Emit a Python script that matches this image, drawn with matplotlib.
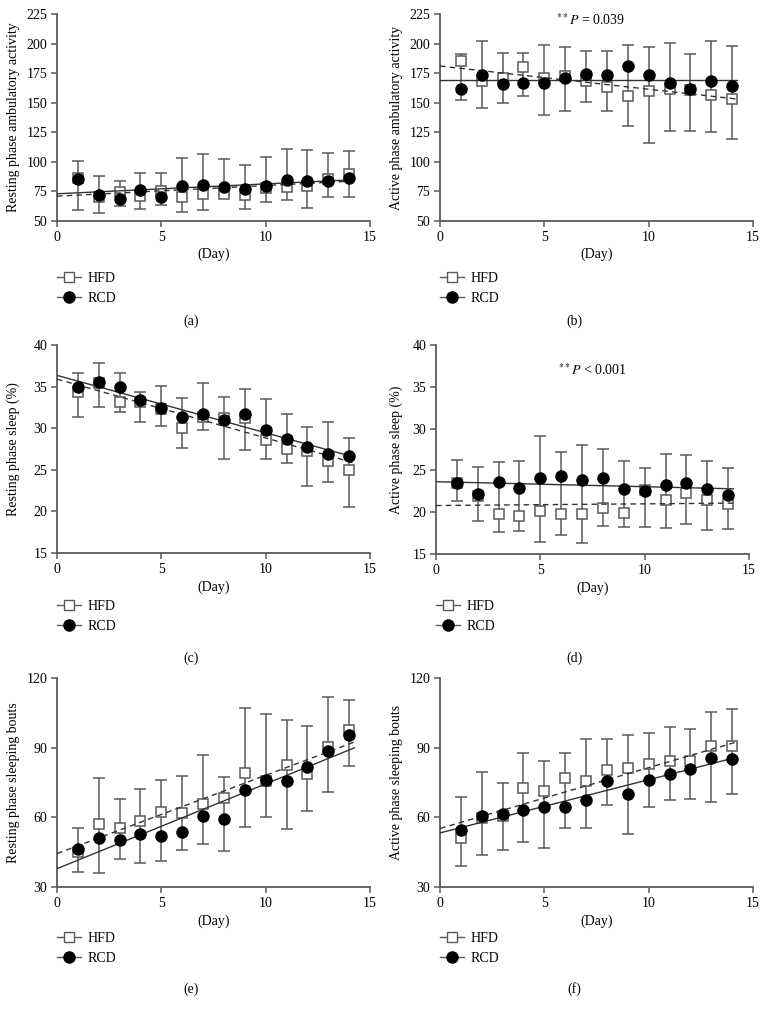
import matplotlib
matplotlib.use('Agg')
import matplotlib.pyplot as plt
from matplotlib.lines import Line2D
import numpy as np

plt.rcParams['font.family'] = ['Liberation Serif', 'DejaVu Serif']
plt.rcParams['mathtext.fontset'] = 'stix'

days = np.arange(1, 15)
series_labels = ['HFD', 'RCD']
panel_labels = ['(a)', '(b)', '(c)', '(d)', '(e)', '(f)']
y_labels = ['Resting phase ambulatory activity', 'Active phase ambulatory activity',
            'Resting phase sleep (%)', 'Active phase sleep (%)',
            'Resting phase sleeping bouts', 'Active phase sleeping bouts']
p_texts = {1: r'$^{**}P$ = 0.039', 3: r'$^{**}P$ < 0.001'}

# (a) resting phase ambulatory activity
a_hfd = [86, 70, 74.5, 71, 75, 70.7, 73, 72.5, 71.6, 77.7, 78.6, 80, 85.6, 89.5]
a_rcd = [85.3, 71.6, 68.8, 75.8, 70.7, 80, 80.5, 78.6, 77.2, 79.7, 85, 84.2, 84.2, 86.4]
a_hi = [101, 87.8, 84.2, 90.6, 90.3, 103.2, 106.9, 102, 97.3, 103.8, 111, 110, 107.7, 109.4]
a_lo = [59, 57, 63, 60, 63.7, 58, 59.5, 72, 60, 65.7, 68, 61, 70.7, 70]
a_trend_hfd = (71.0, 0.90)
a_trend_rcd = (73.0, 0.836)

# (b) active phase ambulatory activity
b_hfd = [185.4, 168, 170.9, 180, 170.9, 172.3, 168.6, 163.3, 156, 159.7, 161.6, 160.5, 156.9, 153.5]
b_rcd = [161.9, 173.7, 166.1, 166.4, 166.4, 170.9, 174.2, 173.1, 180.7, 173.7, 166.7, 161.9, 168.6, 163.9]
b_hi = [191, 202.5, 192.4, 191.9, 198.6, 197.2, 193.8, 193.3, 199.2, 197.2, 200.8, 191.3, 202.2, 197.8]
b_lo = [152.4, 145.4, 149.9, 156, 139.2, 143.4, 150.4, 142.9, 130.3, 116.2, 125.8, 126.3, 125.2, 119]
b_trend_hfd = (181.0, -1.96)
b_trend_rcd = (169.0, 0.0)

# (c) resting phase sleep
c_hfd = [34.4, 35.4, 33.2, 33.1, 32.3, 30.0, 31.4, 31.2, 31.2, 28.6, 27.5, 27.3, 26.0, 25.0]
c_rcd = [34.9, 35.6, 35.0, 33.4, 32.4, 31.4, 31.7, 31.0, 31.7, 29.8, 28.7, 27.8, 26.9, 26.6]
c_hi = [36.6, 37.8, 36.6, 34.4, 35.1, 33.6, 35.4, 33.8, 34.7, 33.5, 31.7, 30.1, 30.8, 28.8]
c_lo = [31.3, 32.5, 32.0, 30.8, 30.3, 27.6, 29.8, 26.3, 27.4, 26.3, 25.8, 23.0, 23.5, 20.5]
c_trend_hfd = (35.9, -0.707)
c_trend_rcd = (36.35, -0.69)

# (d) active phase sleep
d_hfd = [23.5, 21.9, 19.8, 19.5, 20.1, 19.8, 19.8, 20.5, 19.9, 22.6, 21.4, 22.3, 21.4, 21.0]
d_rcd = [23.5, 22.2, 23.6, 22.9, 24.1, 24.3, 23.9, 24.1, 22.8, 22.5, 23.3, 23.5, 22.8, 22.1]
d_hi = [26.3, 25.4, 26.0, 26.1, 29.1, 27.2, 28.0, 27.5, 26.1, 25.3, 27.0, 26.8, 26.1, 25.3]
d_lo = [21.3, 19.0, 17.6, 17.7, 16.4, 17.3, 16.3, 18.4, 18.2, 18.2, 18.1, 18.6, 17.9, 18.0]
d_trend_hfd = (20.8, 0.02)
d_trend_rcd = (23.65, -0.06)

# (e) resting phase sleeping bouts
e_hfd = [45.2, 57.1, 55.4, 58.6, 62.1, 62.0, 65.7, 68.3, 79.3, 75.6, 82.7, 78.6, 90.3, 97.7]
e_rcd = [46.5, 51.1, 50.3, 52.9, 52.0, 53.7, 60.6, 59.4, 71.7, 76.0, 75.6, 81.7, 88.4, 95.6]
e_hi = [55.4, 77.0, 68.0, 72.3, 76.0, 78.0, 86.7, 77.3, 107.1, 104.6, 102.1, 99.4, 112.0, 110.4]
e_lo = [36.5, 36.0, 42.0, 40.4, 41.0, 45.8, 48.7, 45.4, 55.9, 60.2, 54.8, 62.7, 71.0, 82.3]
e_trend_hfd = (44.4, 3.37)
e_trend_rcd = (37.9, 3.65)

# (f) active phase sleeping bouts
f_hfd = [51.1, 59.7, 60.4, 72.6, 71.4, 77.1, 75.7, 80.4, 81.1, 82.9, 84.4, 84.4, 90.7, 90.7]
f_rcd = [54.7, 60.7, 61.6, 63.3, 64.3, 64.3, 67.6, 75.6, 70.1, 76.1, 78.6, 80.9, 85.7, 85.0]
f_hi = [68.9, 79.5, 74.9, 87.7, 84.3, 87.7, 93.7, 93.8, 95.5, 96.2, 98.7, 98.1, 105.2, 106.5]
f_lo = [39.1, 43.8, 46.1, 49.2, 46.7, 55.2, 55.2, 65.1, 53.0, 64.4, 67.3, 67.7, 66.7, 70.0]
f_trend_hfd = (55.2, 2.62)
f_trend_rcd = (53.3, 2.29)

y_ranges = [(50, 225, 25), (50, 225, 25), (15, 40, 5), (15, 40, 5), (30, 120, 30), (30, 120, 30)]

panels = [
    (a_hfd, a_rcd, a_hi, a_lo, a_trend_hfd, a_trend_rcd),
    (b_hfd, b_rcd, b_hi, b_lo, b_trend_hfd, b_trend_rcd),
    (c_hfd, c_rcd, c_hi, c_lo, c_trend_hfd, c_trend_rcd),
    (d_hfd, d_rcd, d_hi, d_lo, d_trend_hfd, d_trend_rcd),
    (e_hfd, e_rcd, e_hi, e_lo, e_trend_hfd, e_trend_rcd),
    (f_hfd, f_rcd, f_hi, f_lo, f_trend_hfd, f_trend_rcd),
]

W, H = 766, 1013
fig = plt.figure(figsize=(W / 100, H / 100), dpi=100)

# axes boxes in pixels: left, top, right, bottom
boxes = [(57, 14, 370, 221), (440, 14, 753, 221),
         (57, 345, 370, 553), (436, 345, 749, 554),
         (57, 678, 370, 887), (440, 678, 753, 887)]
legend_top = [272, 600, 932]
label_y = [321, 658, 989]
col_center = [191.5, 574.5]
ylabel_anchor = [20, 403]

GRAY = '#5a5a5a'
FS = 10

for i, (hfd, rcd, hi, lo, th, tr) in enumerate(panels):
    l, t, r, b = boxes[i]
    ax = fig.add_axes([l / W, 1 - b / H, (r - l) / W, (b - t) / H])
    hfd = np.array(hfd); rcd = np.array(rcd); hi = np.array(hi); lo = np.array(lo)
    ax.errorbar(days, lo, yerr=[np.zeros(len(days)), hi - lo], fmt='none',
                ecolor=GRAY, elinewidth=1.1, capsize=4, capthick=1.1, zorder=1)
    ax.plot(days, hfd, 's', ms=7.5, mfc='white', mec=GRAY, mew=1.1, zorder=2)
    xs = np.array([0, 14.25])
    ax.plot(xs, th[0] + th[1] * xs, '--', color='#333333', lw=1.0, dashes=(4, 3), zorder=3)
    ax.plot(xs, tr[0] + tr[1] * xs, '-', color='#333333', lw=1.0, zorder=3)
    ax.plot(days, rcd, 'o', ms=8, color='black', zorder=4)

    y0, y1, ys = y_ranges[i]
    ax.set_ylim(y0, y1)
    ax.set_yticks(np.arange(y0, y1 + 0.1, ys))
    ax.set_xlim(0, 15)
    ax.set_xticks([0, 5, 10, 15])
    for s in ['top', 'right']:
        ax.spines[s].set_visible(False)
    for s in ['left', 'bottom']:
        ax.spines[s].set_color(GRAY)
        ax.spines[s].set_linewidth(1.3)
    ax.tick_params(direction='out', length=4, width=1.1, color=GRAY, labelsize=FS, pad=3)
    ax.set_ylabel(y_labels[i], fontsize=FS)
    ax.yaxis.set_label_coords((ylabel_anchor[i % 2] - l) / (r - l), 0.5)
    ax.set_xlabel('(Day)', fontsize=FS)
    ax.xaxis.set_label_coords(0.5, -0.13)
    if i in p_texts:
        if i == 1:
            ax.text(0.48, 0.97, p_texts[i], transform=ax.transAxes, ha='center', va='center', fontsize=FS)
        else:
            ax.text(0.50, 0.88, p_texts[i], transform=ax.transAxes, ha='center', va='center', fontsize=FS)

    row = i // 2
    handles = [Line2D([], [], color=GRAY, lw=1, marker='s', ms=7.5, mfc='white', mec=GRAY),
               Line2D([], [], color=GRAY, lw=1, marker='o', ms=8, mfc='black', mec='black')]
    fig.legend(handles, series_labels, loc='upper left',
               bbox_to_anchor=(l / W, 1 - legend_top[row] / H), frameon=False,
               fontsize=FS, handlelength=1.7, handletextpad=0.5, labelspacing=0.5,
               borderpad=0, borderaxespad=0)
    fig.text(col_center[i % 2] / W, 1 - label_y[row] / H, panel_labels[i],
             ha='center', va='center', fontsize=FS)

fig.savefig('out.png', dpi=100)
